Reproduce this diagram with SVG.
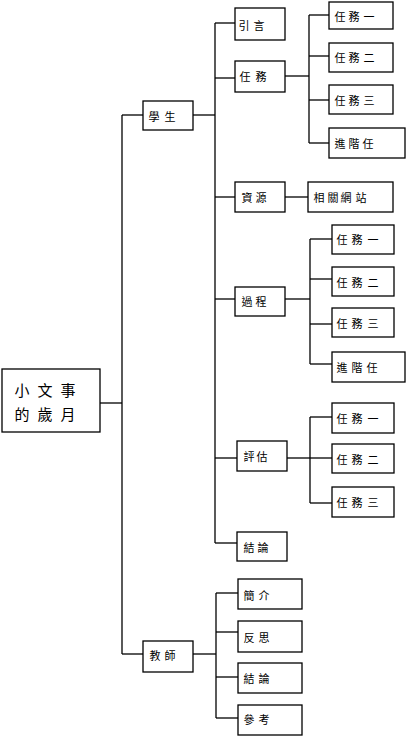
<svg xmlns="http://www.w3.org/2000/svg" width="406" height="738" viewBox="0 0 406 738">
<style>
rect{fill:#fff;stroke:#000;stroke-width:1.3}
.c line{stroke:#000;stroke-width:1.3}
text{font-family:"Noto Sans CJK TC","Noto Sans CJK SC",sans-serif;font-size:11px;fill:#000;text-anchor:middle;dominant-baseline:central}
.root text{font-size:15px}
</style>
<rect x="0" y="0" width="406" height="738" style="stroke:none"/>
<g class="c" id="connectors">
<line x1="100" y1="403" x2="122" y2="403"/>
<line x1="122" y1="115" x2="122" y2="654"/>
<line x1="122" y1="115" x2="143" y2="115"/>
<line x1="122" y1="654" x2="143" y2="654"/>
<line x1="193" y1="115" x2="215" y2="115"/>
<line x1="215" y1="23" x2="215" y2="543"/>
<line x1="215" y1="23" x2="235" y2="23"/>
<line x1="215" y1="78" x2="235" y2="78"/>
<line x1="215" y1="197" x2="235" y2="197"/>
<line x1="215" y1="299" x2="235" y2="299"/>
<line x1="215" y1="458" x2="237" y2="458"/>
<line x1="215" y1="543" x2="237" y2="543"/>
<line x1="285" y1="76" x2="309" y2="76"/>
<line x1="309" y1="15" x2="309" y2="143"/>
<line x1="309" y1="15" x2="329" y2="15"/>
<line x1="309" y1="56" x2="329" y2="56"/>
<line x1="309" y1="100" x2="329" y2="100"/>
<line x1="309" y1="143" x2="329" y2="143"/>
<line x1="285" y1="197" x2="308" y2="197"/>
<line x1="285" y1="299" x2="310" y2="299"/>
<line x1="310" y1="239" x2="310" y2="364"/>
<line x1="310" y1="239" x2="332" y2="239"/>
<line x1="310" y1="279" x2="332" y2="279"/>
<line x1="310" y1="324" x2="332" y2="324"/>
<line x1="310" y1="364" x2="332" y2="364"/>
<line x1="287" y1="458" x2="310" y2="458"/>
<line x1="310" y1="417" x2="310" y2="503"/>
<line x1="310" y1="417" x2="332" y2="417"/>
<line x1="310" y1="458" x2="332" y2="458"/>
<line x1="310" y1="503" x2="332" y2="503"/>
<line x1="193" y1="654" x2="216" y2="654"/>
<line x1="216" y1="593" x2="216" y2="718"/>
<line x1="216" y1="593" x2="238" y2="593"/>
<line x1="216" y1="632" x2="238" y2="632"/>
<line x1="216" y1="677" x2="238" y2="677"/>
<line x1="216" y1="718" x2="238" y2="718"/>
</g>
<g id="root" class="root"><rect x="2" y="369" width="98" height="63"/><text x="22 45 68" y="389">小文事</text><text x="22 45 68" y="413">的歲月</text></g>
<g id="student"><rect x="143" y="101" width="50" height="29"/><text x="154 170" y="116">學生</text></g>
<g id="intro"><rect x="235" y="8" width="50" height="32"/><text x="244 259" y="25">引言</text></g>
<g id="task"><rect x="235" y="61" width="50" height="31"/><text x="245 261" y="76">任務</text></g>
<g id="task-1"><rect x="329" y="2" width="64" height="27"/><text x="340 354 369" y="16">任務一</text></g>
<g id="task-2"><rect x="329" y="43" width="64" height="29"/><text x="340 354 369" y="57">任務二</text></g>
<g id="task-3"><rect x="329" y="85" width="64" height="29"/><text x="340 354 369" y="100">任務三</text></g>
<g id="task-adv"><rect x="329" y="128" width="76" height="30"/><text x="340 354 368" y="143">進階任</text></g>
<g id="resource"><rect x="235" y="182" width="50" height="30"/><text x="247 261" y="197">資源</text></g>
<g id="sites"><rect x="308" y="182" width="85" height="30"/><text x="319 333 346 361" y="197">相關網站</text></g>
<g id="process"><rect x="235" y="287" width="50" height="29"/><text x="247 261" y="301">過程</text></g>
<g id="p-task-1"><rect x="332" y="225" width="62" height="29"/><text x="342 357 373" y="239">任務一</text></g>
<g id="p-task-2"><rect x="332" y="267" width="62" height="29"/><text x="342 357 373" y="282">任務二</text></g>
<g id="p-task-3"><rect x="332" y="308" width="62" height="29"/><text x="342 357 373" y="323">任務三</text></g>
<g id="p-task-adv"><rect x="332" y="352" width="73" height="30"/><text x="342 357 372" y="367">進階任</text></g>
<g id="evaluation"><rect x="237" y="441" width="50" height="30"/><text x="249 262" y="456">評估</text></g>
<g id="e-task-1"><rect x="332" y="403" width="62" height="30"/><text x="342 357 373" y="418">任務一</text></g>
<g id="e-task-2"><rect x="332" y="444" width="62" height="29"/><text x="342 357 373" y="459">任務二</text></g>
<g id="e-task-3"><rect x="332" y="487" width="62" height="30"/><text x="342 357 373" y="502">任務三</text></g>
<g id="conclusion"><rect x="237" y="532" width="50" height="29"/><text x="249 263" y="547">結論</text></g>
<g id="teacher"><rect x="143" y="641" width="50" height="31"/><text x="155 170" y="655">教師</text></g>
<g id="t-intro"><rect x="238" y="579" width="64" height="30"/><text x="249 264" y="595">簡介</text></g>
<g id="t-reflect"><rect x="238" y="621" width="64" height="31"/><text x="249 264" y="637">反思</text></g>
<g id="t-conclusion"><rect x="238" y="663" width="64" height="30"/><text x="249 264" y="678">結論</text></g>
<g id="t-reference"><rect x="238" y="705" width="64" height="30"/><text x="249 264" y="719">參考</text></g>
</svg>
